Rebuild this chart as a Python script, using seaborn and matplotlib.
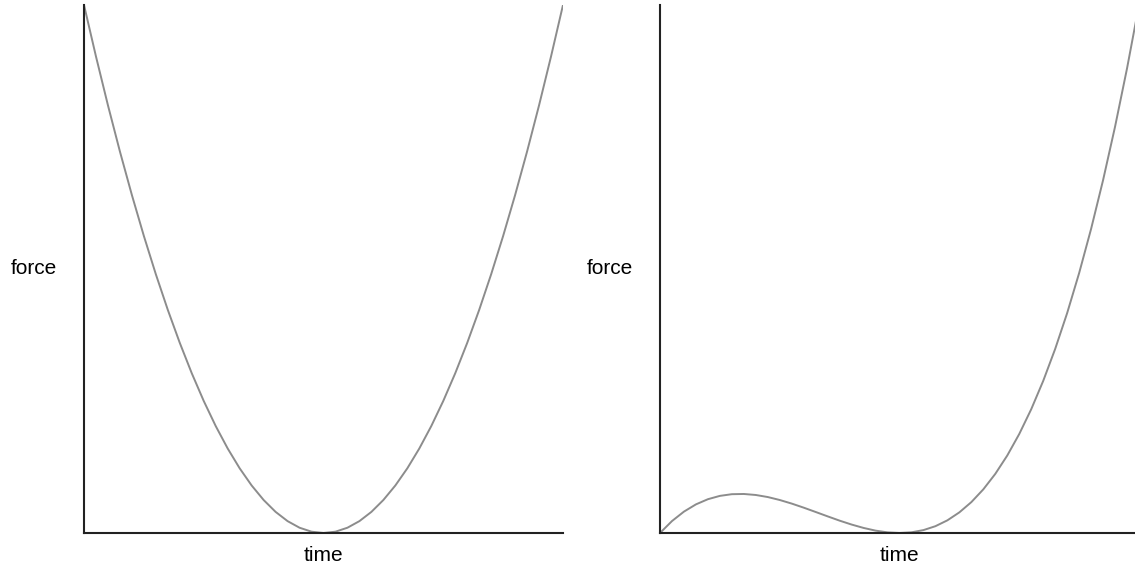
import matplotlib
matplotlib.use("Agg")
import matplotlib.pyplot as plt
import seaborn as sns
import pandas as pd

# time samples (shared)
time = [0.0, 0.025, 0.05, 0.075, 0.1, 0.125, 0.15, 0.175, 0.2, 0.225, 0.25,
        0.275, 0.3, 0.325, 0.35, 0.375, 0.4, 0.425, 0.45, 0.475, 0.5,
        0.525, 0.55, 0.575, 0.6, 0.625, 0.65, 0.675, 0.7, 0.725, 0.75,
        0.775, 0.8, 0.825, 0.85, 0.875, 0.9, 0.925, 0.95, 0.975, 1.0]

# left panel force values
force_left = [1.0, 0.9025, 0.81, 0.7225, 0.64, 0.5625, 0.49, 0.4225, 0.36, 0.3025, 0.25,
              0.2025, 0.16, 0.1225, 0.09, 0.0625, 0.04, 0.0225, 0.01, 0.0025, 0.0,
              0.0025, 0.01, 0.0225, 0.04, 0.0625, 0.09, 0.1225, 0.16, 0.2025, 0.25,
              0.3025, 0.36, 0.4225, 0.49, 0.5625, 0.64, 0.7225, 0.81, 0.9025, 1.0]

# right panel force values
force_right = [0.0, 0.0226, 0.0405, 0.0542, 0.064, 0.0703, 0.0735, 0.0739, 0.072, 0.0681, 0.0625,
               0.0557, 0.048, 0.0398, 0.0315, 0.0234, 0.016, 0.0096, 0.0045, 0.0012, 0.0,
               0.0013, 0.0055, 0.0129, 0.024, 0.0391, 0.0585, 0.0827, 0.112, 0.1468, 0.1875,
               0.2344, 0.288, 0.3486, 0.4165, 0.4922, 0.576, 0.6683, 0.7695, 0.8799, 1.0]

xlabel = "time"
ylabel = "force"

sns.set_style("white")
plt.rcParams['font.family'] = ['Liberation Sans', 'DejaVu Sans']
plt.rcParams['text.color'] = 'black'
plt.rcParams['axes.labelcolor'] = 'black'

W, H = 1135, 567
fig = plt.figure(figsize=(W / 100, H / 100), dpi=100)

def add_panel(left_px, values):
    ax = fig.add_axes([left_px / W, (H - 533) / H, 479 / W, 528 / H])
    df = pd.DataFrame({"time": time, "force": values})
    sns.lineplot(data=df, x="time", y="force", ax=ax, color="#8c8c8c", linewidth=1.4)
    ax.set_xlim(0, 1)
    ax.set_ylim(0, 1)
    ax.set_xticks([])
    ax.set_yticks([])
    for s in ["top", "right"]:
        ax.spines[s].set_visible(False)
    for s in ["left", "bottom"]:
        ax.spines[s].set_color("#222222")
        ax.spines[s].set_linewidth(1.5)
    ax.set_xlabel(xlabel, fontsize=15, va="center", color="black")
    ax.set_ylabel(ylabel, fontsize=15, rotation=0, ha="center", va="center", color="black")
    ax.xaxis.set_label_coords(0.5, -0.042)
    ax.yaxis.set_label_coords(-0.105, 0.5)
    return ax

add_panel(84, force_left)
add_panel(660, force_right)

fig.savefig("out.png", dpi=100)
